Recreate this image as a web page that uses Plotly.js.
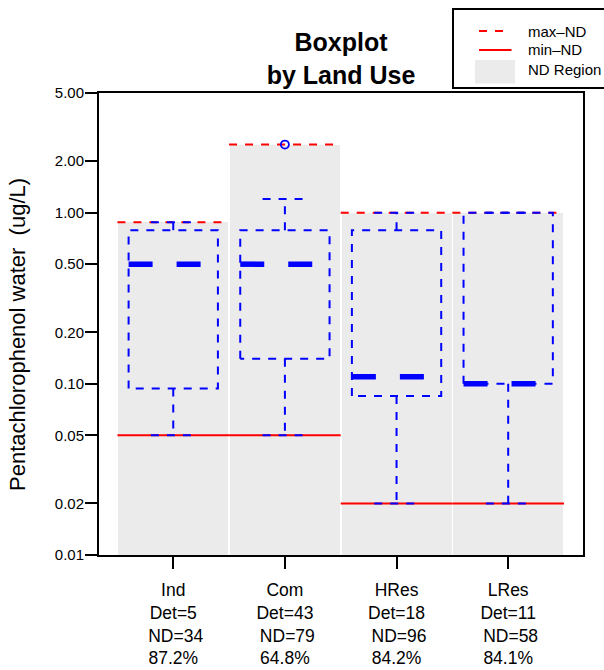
<!DOCTYPE html>
<html><head><meta charset="utf-8">
<script src="https://cdn.plot.ly/plotly-3.0.1.min.js"></script>
<style>body{margin:0;padding:0;background:#fff;} #chart{width:604px;height:670px;}</style>
</head><body><div id="chart"></div>
<script>
// ---- data ----
const categories   = ['Ind', 'Com', 'HRes', 'LRes'];
const detCount     = [5, 43, 18, 11];
const ndCount      = [34, 79, 96, 58];
const maxND        = [0.88, 2.5, 1.0, 1.0];
const minND        = [0.05, 0.05, 0.02, 0.02];
const lowerWhisker = [0.05, 0.05, 0.02, 0.02];
const q1           = [0.094, 0.14, 0.085, 0.10];
const median       = [0.50, 0.50, 0.11, 0.10];
const q3           = [0.79, 0.79, 0.79, 1.0];
const upperWhisker = [0.88, 1.2, 1.0, 1.0];
const outlierGroup = ['Com'];
const outlierValue = [2.5];
const yTickVals    = [0.01, 0.02, 0.05, 0.10, 0.20, 0.50, 1.00, 2.00, 5.00];
const legendLabels = ['max\u2013ND', 'min\u2013ND', 'ND Region'];
const yTitle       = 'Pentachlorophenol water\u00A0\u00A0(ug/L)';

// ---- helpers ----
const pos = categories.map((c, i) => i + 1);
const FONT = 'Liberation Sans, Arial, Helvetica, sans-serif';
const RED = '#ff0000', BLUE = '#0000ff', GREY = '#ebebeb';
const tickText = categories.map((c, i) =>
  c + '<br>Det=' + detCount[i] + '<br>\u00A0ND=' + ndCount[i] + '<br>' +
  (100 * ndCount[i] / (ndCount[i] + detCount[i])).toFixed(1) + '%');

function segs(list) {
  const x = [], y = [];
  list.forEach(pl => { pl.forEach(p => { x.push(p[0]); y.push(p[1]); }); x.push(null); y.push(null); });
  return {x, y};
}
const halfBar = 0.5, halfBox = 0.4, halfCap = 0.2, barBase = 0.001;

const maxLines = segs(pos.map((p, i) => [[p - halfBar, maxND[i]], [p + halfBar, maxND[i]]]));
const minLines = segs(pos.map((p, i) => [[p - halfBar, minND[i]], [p + halfBar, minND[i]]]));
const boxes = segs(pos.map((p, i) => [[p - halfBox, q1[i]], [p - halfBox, q3[i]], [p + halfBox, q3[i]], [p + halfBox, q1[i]], [p - halfBox, q1[i]]]));
const whiskers = segs([].concat(
  pos.map((p, i) => [[p, q1[i]], [p, lowerWhisker[i]]]),
  pos.map((p, i) => [[p, q3[i]], [p, upperWhisker[i]]]),
  pos.map((p, i) => [[p - halfCap, lowerWhisker[i]], [p + halfCap, lowerWhisker[i]]]),
  pos.map((p, i) => [[p - halfCap, upperWhisker[i]], [p + halfCap, upperWhisker[i]]])
));
const medians = segs(pos.map((p, i) => [[p - halfBox, median[i]], [p + halfBox, median[i]]]));

const traces = [
  { type: 'bar', x: pos, y: maxND.map(v => v - barBase), base: barBase, width: 0.985,
    marker: { color: GREY, line: { width: 0 } }, name: legendLabels[2], hoverinfo: 'skip' },
  { type: 'scatter', mode: 'lines', x: minLines.x, y: minLines.y, name: legendLabels[1],
    line: { color: RED, width: 2 }, hoverinfo: 'skip' },
  { type: 'scatter', mode: 'lines', x: maxLines.x, y: maxLines.y, name: legendLabels[0],
    line: { color: RED, width: 2, dash: '8px,8px' }, hoverinfo: 'skip' },
  { type: 'scatter', mode: 'lines', x: whiskers.x, y: whiskers.y,
    line: { color: BLUE, width: 2, dash: '8px,8px' }, hoverinfo: 'skip' },
  { type: 'scatter', mode: 'lines', x: boxes.x, y: boxes.y,
    line: { color: BLUE, width: 2, dash: '8px,8px' }, hoverinfo: 'skip' },
  { type: 'scatter', mode: 'lines', x: medians.x, y: medians.y,
    line: { color: BLUE, width: 5.5, dash: '24px,24px' }, hoverinfo: 'skip' },
  { type: 'scatter', mode: 'markers', x: outlierGroup.map(g => categories.indexOf(g) + 1), y: outlierValue,
    marker: { symbol: 'circle-open', size: 8, color: BLUE, line: { width: 1.8, color: BLUE } } }
];

// ---- legend box and y title (paper space) ----
const M = { l: 99, r: 21, t: 93, b: 115 }, W = 604, H = 670;
const PW = W - M.l - M.r, PH = H - M.t - M.b;
const px = v => (v - M.l) / PW;           // page pixel -> paper x
const py = v => (H - M.b - v) / PH;       // page pixel -> paper y
const legendRows = [31, 50, 69.5];
const shapes = [
  { type: 'rect', xref: 'paper', yref: 'paper', x0: px(453), x1: px(660), y0: py(88), y1: py(9),
    line: { color: '#000', width: 2 }, fillcolor: 'rgba(0,0,0,0)', layer: 'above' },
  { type: 'line', xref: 'paper', yref: 'paper', x0: px(479), x1: px(503.5), y0: py(legendRows[0]), y1: py(legendRows[0]),
    line: { color: RED, width: 2, dash: '8px,8px' } },
  { type: 'line', xref: 'paper', yref: 'paper', x0: px(479), x1: px(511.5), y0: py(legendRows[1]), y1: py(legendRows[1]),
    line: { color: RED, width: 2 } },
  { type: 'rect', xref: 'paper', yref: 'paper', x0: px(475), x1: px(515), y0: py(83.5), y1: py(60),
    line: { width: 0 }, fillcolor: GREY }
];
const annotations = legendLabels.map((t, i) => ({
  text: t, xref: 'paper', yref: 'paper', x: px(526), y: py(legendRows[i]), xanchor: 'left', yanchor: 'middle',
  showarrow: false, font: { family: FONT, size: 15, color: '#000' }
}));
annotations.push({
  text: yTitle, textangle: -90, xref: 'paper', yref: 'paper', x: px(17.5), y: py(334.5),
  xanchor: 'center', yanchor: 'middle', showarrow: false, font: { family: FONT, size: 22, color: '#000' }
});

const layout = {
  width: W, height: H,
  margin: { l: M.l, r: M.r, t: M.t, b: M.b, autoexpand: false },
  paper_bgcolor: '#ffffff', plot_bgcolor: '#ffffff',
  font: { family: FONT, color: '#000000' },
  showlegend: false,
  title: { text: '<b>Boxplot<br>by Land Use</b>', font: { family: FONT, size: 25, color: '#000' },
           x: 0.5, xref: 'paper', xanchor: 'center', y: 1 - 51 / 670, yref: 'container', yanchor: 'top' },
  xaxis: { range: [0.335, 4.67], tickmode: 'array', tickvals: pos, ticktext: tickText,
           ticks: 'outside', ticklen: 12, tickwidth: 2, tickcolor: '#000', ticklabelstandoff: 6,
           showline: true, linewidth: 2, linecolor: '#000', mirror: true,
           showgrid: false, zeroline: false, tickfont: { family: FONT, size: 17.5, color: '#000' } },
  yaxis: { type: 'log', range: [-2, Math.log10(5)], tickmode: 'array', tickvals: yTickVals,
           ticktext: yTickVals.map(v => v.toFixed(2)),
           ticks: 'outside', ticklen: 12, tickwidth: 2, tickcolor: '#000', ticklabelstandoff: -2,
           showline: true, linewidth: 2, linecolor: '#000', mirror: true,
           showgrid: false, zeroline: false, tickfont: { family: FONT, size: 15, color: '#000' } },
  shapes: shapes,
  annotations: annotations,
  bargap: 0
};

Plotly.newPlot('chart', traces, layout, { staticPlot: true, displayModeBar: false });
</script>
</body></html>
